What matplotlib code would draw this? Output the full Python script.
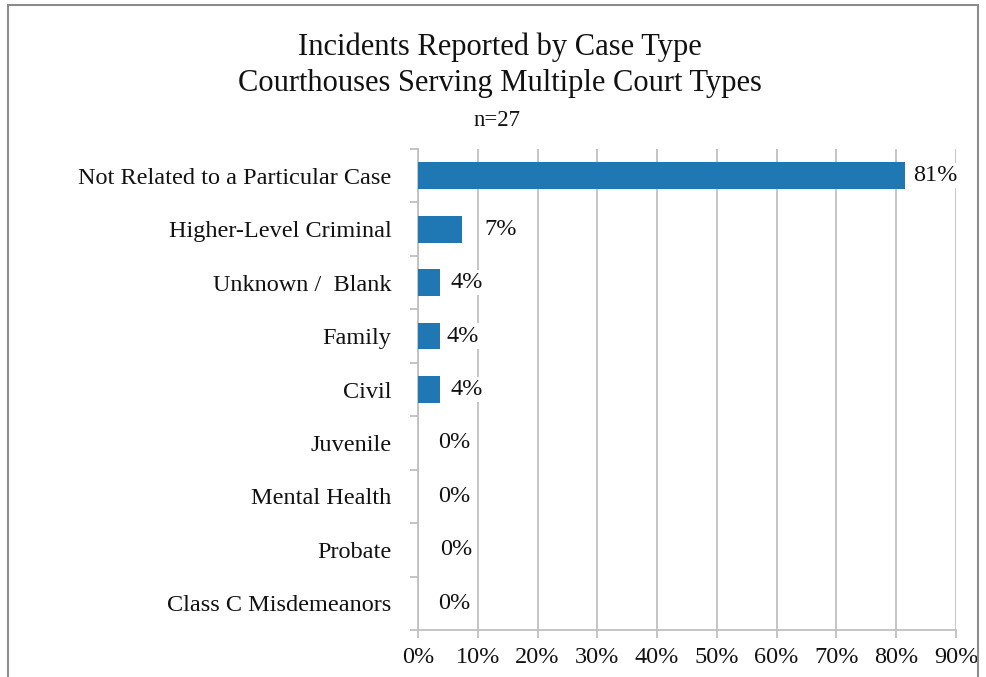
import matplotlib
matplotlib.use("Agg")
import matplotlib.pyplot as plt
from matplotlib.patches import Rectangle
from matplotlib.ticker import FixedLocator, PercentFormatter
from matplotlib.transforms import offset_copy

categories = ["Not Related to a Particular Case", "Higher-Level Criminal", "Unknown /  Blank",
              "Family", "Civil", "Juvenile", "Mental Health", "Probate", "Class C Misdemeanors"]
counts = [22, 2, 1, 1, 1, 0, 0, 0, 0]
n_total = 27
xticks = [0, 10, 20, 30, 40, 50, 60, 70, 80, 90]
title_lines = ["Incidents Reported by Case Type", "Courthouses Serving Multiple Court Types"]
subtitle = "n=27"

label_pad_px = [8, 22, 10, 6, 10, 20, 20, 22, 20]

plt.rcParams['font.family'] = ['Liberation Serif', 'DejaVu Serif']
W, H = 986, 677
fig = plt.figure(figsize=(W/100, H/100), dpi=100)
ax = fig.add_axes([418/W, 1-630/H, (956-418)/W, (630-149)/H])

pct = [c / n_total * 100 for c in counts]
y = list(range(len(categories)))
bar_color = '#1f77b4'
ax.barh(y, pct, height=0.5, color=bar_color, zorder=3)
ax.set_ylim(len(categories)-0.5, -0.5)
ax.set_xlim(0, 90)
ax.xaxis.set_major_locator(FixedLocator(xticks))
ax.xaxis.set_major_formatter(PercentFormatter(decimals=0))
ax.set_yticks(y)
ax.set_yticklabels(categories)
ax.yaxis.set_minor_locator(FixedLocator([i - 0.5 for i in range(len(categories)+1)]))

grid_c = '#c0c0c0'
txt_c = '#111111'
fs = 17.5
ax.grid(axis='x', color=grid_c, linewidth=1.3, zorder=0)
for s in ['top', 'right']:
    ax.spines[s].set_visible(False)
for s in ['left', 'bottom']:
    ax.spines[s].set_color(grid_c)
    ax.spines[s].set_linewidth(1.3)
ax.tick_params(axis='y', which='major', length=0, pad=19, labelsize=fs, labelcolor=txt_c)
ax.tick_params(axis='y', which='minor', length=6, width=1.3, color=grid_c)
ax.tick_params(axis='x', which='major', length=6, width=1.3, color=grid_c, pad=6,
               labelsize=fs, labelcolor=txt_c)

for i, (v, p) in enumerate(zip(pct, label_pad_px)):
    tr = offset_copy(ax.transData, fig=fig, x=p, y=0, units='dots')
    ax.text(v, i, f"{v:.0f}%", transform=tr, va='center', ha='left', fontsize=fs,
            color=txt_c, zorder=4,
            bbox=dict(facecolor='white', edgecolor='none', pad=1.5))

fig.text(500/W, 1-47/H, title_lines[0], ha='center', va='center', fontsize=22, color=txt_c)
fig.text(500/W, 1-84/H, title_lines[1], ha='center', va='center', fontsize=22, color=txt_c)
fig.text(497/W, 1-120/H, subtitle, ha='center', va='center', fontsize=16.5, color=txt_c)

fig.patches.append(Rectangle((8/W, -0.02), (978-8)/W, (1-5/H)+0.02, transform=fig.transFigure,
                             fill=False, edgecolor='#8c8c8c', linewidth=1.5))

fig.savefig("out.png", dpi=100)
